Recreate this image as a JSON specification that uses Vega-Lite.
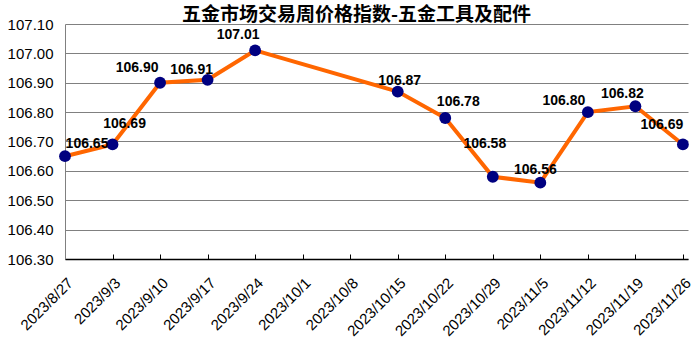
{
  "$schema": "https://vega.github.io/schema/vega-lite/v6.json",
  "width": 623,
  "height": 235,
  "autosize": {"type": "none"},
  "padding": {"left": 65, "top": 24, "right": 4, "bottom": 99},
  "background": "white",
  "config": {
    "view": {"stroke": null},
    "font": "Liberation Sans"
  },
  "title": {
    "text": "五金市场交易周价格指数-五金工具及配件",
    "font": "Noto Sans CJK SC",
    "fontSize": 19,
    "fontWeight": "bold",
    "color": "black",
    "anchor": "middle",
    "dx": -20,
    "dy": 9,
    "offset": 1
  },
  "data": {
    "values": [
      {"date": "2023-08-27", "value": 106.65},
      {"date": "2023-09-03", "value": 106.69},
      {"date": "2023-09-10", "value": 106.90},
      {"date": "2023-09-17", "value": 106.91},
      {"date": "2023-09-24", "value": 107.01},
      {"date": "2023-10-15", "value": 106.87},
      {"date": "2023-10-22", "value": 106.78},
      {"date": "2023-10-29", "value": 106.58},
      {"date": "2023-11-05", "value": 106.56},
      {"date": "2023-11-12", "value": 106.80},
      {"date": "2023-11-19", "value": 106.82},
      {"date": "2023-11-26", "value": 106.69}
    ]
  },
  "encoding": {
    "x": {
      "field": "date",
      "type": "temporal",
      "scale": {
        "type": "utc",
        "nice": false,
        "domain": [
          {"year": 2023, "month": 8, "date": 27, "utc": true},
          {"year": 2023, "month": 11, "date": 26, "hours": 18, "utc": true}
        ]
      },
      "axis": {
        "title": null,
        "tickCount": {"interval": "week", "step": 1},
        "labelExpr": "utcFormat(datum.value, '%Y/%-m/%-d')",
        "labelAngle": -45,
        "labelAlign": "right",
        "labelBaseline": "top",
        "labelPadding": 21,
        "labelFontSize": 15,
        "labelColor": "black",
        "labelFlush": false,
        "labelOverlap": false,
        "domainColor": "black",
        "domainWidth": 1.5,
        "tickColor": "black",
        "tickSize": -5,
        "tickWidth": 1,
        "grid": false
      }
    },
    "y": {
      "field": "value",
      "type": "quantitative",
      "scale": {"domain": [106.3, 107.1], "zero": false, "nice": false},
      "axis": {
        "title": null,
        "values": [106.3, 106.4, 106.5, 106.6, 106.7, 106.8, 106.9, 107.0, 107.1],
        "format": ".2f",
        "labelFontSize": 15,
        "labelColor": "black",
        "labelPadding": 12,
        "tickSize": 0,
        "domainColor": "#808080",
        "grid": true,
        "gridColor": "#808080",
        "gridWidth": 1
      }
    }
  },
  "layer": [
    {"mark": {"type": "line", "color": "#ff6600", "strokeWidth": 4}},
    {"mark": {"type": "point", "shape": "circle", "filled": true, "color": "#000080", "opacity": 1, "size": 140}},
    {
      "encoding": {"text": {"field": "value", "type": "quantitative", "format": ".2f"}},
      "layer": [
        {"transform": [{"filter": "utcFormat(datum.date, '%m-%d') == '08-27'"}], "mark": {"type": "text", "fontSize": 14, "fontWeight": "bold", "color": "black", "dx": 22, "dy": -12}},
        {"transform": [{"filter": "utcFormat(datum.date, '%m-%d') == '09-03'"}], "mark": {"type": "text", "fontSize": 14, "fontWeight": "bold", "color": "black", "dx": 12, "dy": -20}},
        {"transform": [{"filter": "utcFormat(datum.date, '%m-%d') == '09-10'"}], "mark": {"type": "text", "fontSize": 14, "fontWeight": "bold", "color": "black", "dx": -23, "dy": -15}},
        {"transform": [{"filter": "utcFormat(datum.date, '%m-%d') == '09-17'"}], "mark": {"type": "text", "fontSize": 14, "fontWeight": "bold", "color": "black", "dx": -16, "dy": -10}},
        {"transform": [{"filter": "utcFormat(datum.date, '%m-%d') == '09-24'"}], "mark": {"type": "text", "fontSize": 14, "fontWeight": "bold", "color": "black", "dx": -17, "dy": -15}},
        {"transform": [{"filter": "utcFormat(datum.date, '%m-%d') == '10-15'"}], "mark": {"type": "text", "fontSize": 14, "fontWeight": "bold", "color": "black", "dx": 2, "dy": -11}},
        {"transform": [{"filter": "utcFormat(datum.date, '%m-%d') == '10-22'"}], "mark": {"type": "text", "fontSize": 14, "fontWeight": "bold", "color": "black", "dx": 13, "dy": -16}},
        {"transform": [{"filter": "utcFormat(datum.date, '%m-%d') == '10-29'"}], "mark": {"type": "text", "fontSize": 14, "fontWeight": "bold", "color": "black", "dx": -8, "dy": -33}},
        {"transform": [{"filter": "utcFormat(datum.date, '%m-%d') == '11-05'"}], "mark": {"type": "text", "fontSize": 14, "fontWeight": "bold", "color": "black", "dx": -5, "dy": -13}},
        {"transform": [{"filter": "utcFormat(datum.date, '%m-%d') == '11-12'"}], "mark": {"type": "text", "fontSize": 14, "fontWeight": "bold", "color": "black", "dx": -24, "dy": -11}},
        {"transform": [{"filter": "utcFormat(datum.date, '%m-%d') == '11-19'"}], "mark": {"type": "text", "fontSize": 14, "fontWeight": "bold", "color": "black", "dx": -13, "dy": -12}},
        {"transform": [{"filter": "utcFormat(datum.date, '%m-%d') == '11-26'"}], "mark": {"type": "text", "fontSize": 14, "fontWeight": "bold", "color": "black", "dx": -21, "dy": -19}}
      ]
    }
  ]
}
